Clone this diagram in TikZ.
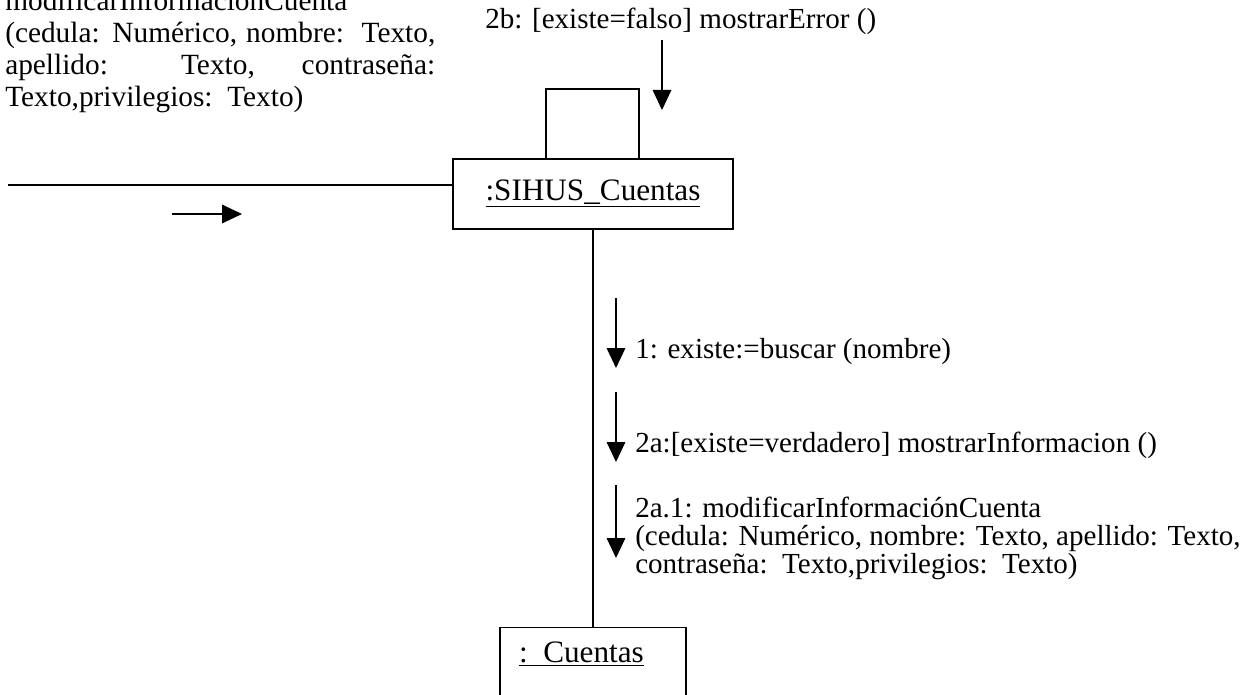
\documentclass[tikz,border=0pt]{standalone}
\usepackage{fontspec}
\setmainfont{Liberation Serif}
\usepackage{tikz}
\usetikzlibrary{arrows.meta, positioning, calc}

\begin{document}
\begin{tikzpicture}[x=0.75pt, y=-0.75pt,
  objeto/.style={rectangle, draw, line width=1.1pt, minimum width=210pt, minimum height=52.5pt, font=\fontsize{23.4}{26}\selectfont},
  msg/.style={inner sep=0pt, anchor=base west, font=\fontsize{21.8}{21}\selectfont},
  nota/.style={inner sep=0pt, text width=322.5pt, align=justify, font=\fontsize{22}{24}\selectfont},
  enlace/.style={line width=0.8pt},
  arr/.style={-{Triangle[length=15pt, width=14pt]}, line width=0.8pt}
]
\useasboundingbox (0,0) rectangle (1242,695);
% objetos
\node[objeto, text height=15pt, text depth=5.5pt] (sihus) at (593,194) {\underline{:SIHUS\_Cuentas}};
\node[objeto, below=297.75pt of sihus, minimum width=139.5pt, text width=111pt, inner xsep=14.25pt, align=left, text height=9pt, text depth=9pt] (cuentas) {\underline{: Cuentas}};
% nota del actor
\node[nota, anchor=north west] (notaActor) at (5,-10) {modificarInformaciónCuenta\\(cedula: Numérico, nombre:\ \ Texto,\linebreak apellido: Texto, contraseña:\linebreak Texto,privilegios:\ \ Texto)};
% enlaces
\coordinate (actor) at (8,185);
\draw[enlace] (actor) -- (actor -| sihus.west);
\draw[enlace] (sihus.south) -- (cuentas.north);
\coordinate (lazoA) at (546,89);
\coordinate (lazoB) at (639,89);
\draw[enlace] (lazoA |- sihus.north) -- (lazoA) -- (lazoB) -- (lazoB |- sihus.north);
% mensajes
\coordinate (in1) at (172,214);
\coordinate (in2) at (242,214);
\draw[arr] (in1) -- (in2);
\node[msg] (m2b) at (485,29) {2b: [existe=falso] mostrarError ()};
\coordinate (m2bA) at (662,40);
\coordinate (m2bB) at (662,110);
\draw[arr] (m2bA) -- (m2bB);
\node[msg] (m1) at (635,358) {1: existe:=buscar (nombre)};
\coordinate (m1A) at (616,298);
\coordinate (m1B) at (616,368);
\draw[arr] (m1A) -- (m1B);
\node[msg] (m2a) at (635,452) {2a:[existe=verdadero] mostrarInformacion ()};
\coordinate (m2aA) at (616,392);
\coordinate (m2aB) at (616,462);
\draw[arr] (m2aA) -- (m2aB);
\node[msg, anchor=north west, align=left] (m2a1) at (635,497) {2a.1: modificarInformaciónCuenta\\(cedula: Numérico, nombre: Texto, apellido: Texto,\\contraseña:\ \ Texto,privilegios:\ \ Texto)};
\coordinate (m2a1A) at (616,485);
\coordinate (m2a1B) at (616,558);
\draw[arr] (m2a1A) -- (m2a1B);
\end{tikzpicture}
\end{document}
